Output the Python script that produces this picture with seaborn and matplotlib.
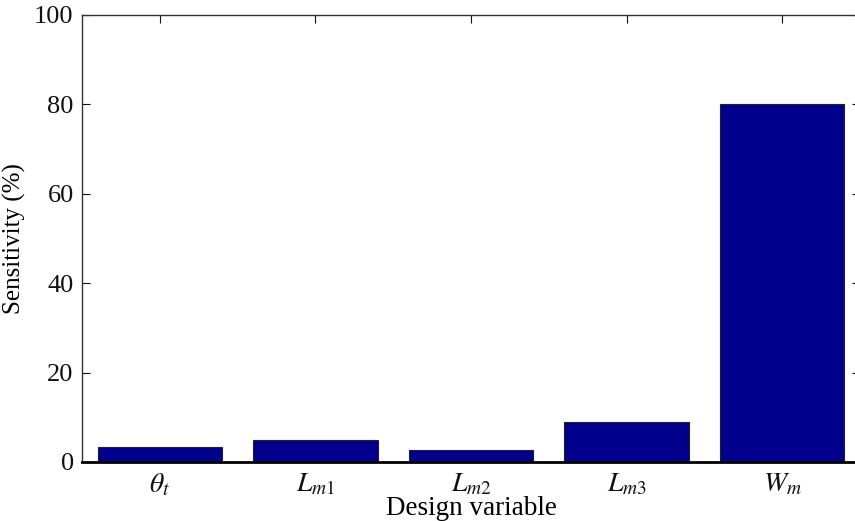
import matplotlib
matplotlib.use("Agg")
import matplotlib.pyplot as plt
import seaborn as sns
import pandas as pd

categories = [r"$\theta_t$", r"$L_{m1}$", r"$L_{m2}$", r"$L_{m3}$", r"$W_m$"]
sensitivity = [3.4, 4.9, 2.6, 8.9, 80.1]
yticks = [0, 20, 40, 60, 80, 100]

sns.set_style("white")
plt.rcParams["font.family"] = ["Liberation Serif", "DejaVu Serif"]
plt.rcParams["mathtext.fontset"] = "stix"

df = pd.DataFrame({"var": categories, "sens": sensitivity})

fig = plt.figure(figsize=(8.55, 5.21), dpi=100)
ax = fig.add_axes([82/855, 59/521, (860-82)/855, 447/521])
sns.barplot(data=df, x="var", y="sens", ax=ax, color="#00008C", saturation=1,
            width=0.8, edgecolor="#222222", linewidth=0.8)

ax.set_xlim(-0.5, 4.5)
ax.set_ylim(0, 100)
ax.set_yticks(yticks)
ax.set_yticklabels([str(t) for t in yticks], fontsize=19)
ax.tick_params(axis="x", which="both", direction="in", length=6, top=True, bottom=False,
               labelsize=20, pad=7, colors="#111111")
ax.tick_params(axis="y", which="both", direction="in", length=6, left=True, right=True,
               labelsize=19, pad=6, colors="#111111")
for lbl in ax.get_xticklabels():
    lbl.set_fontstyle("italic")
for s in ax.spines.values():
    s.set_color("#333333")
    s.set_linewidth(1.0)
ax.spines["bottom"].set_color("black")
ax.spines["bottom"].set_linewidth(2.0)

ax.set_xlabel("Design variable", fontsize=19.5, color="#000000", labelpad=-2)
ax.set_ylabel("Sensitivity (%)", fontsize=18, color="#000000", labelpad=6)

fig.savefig("out.png", dpi=100)
